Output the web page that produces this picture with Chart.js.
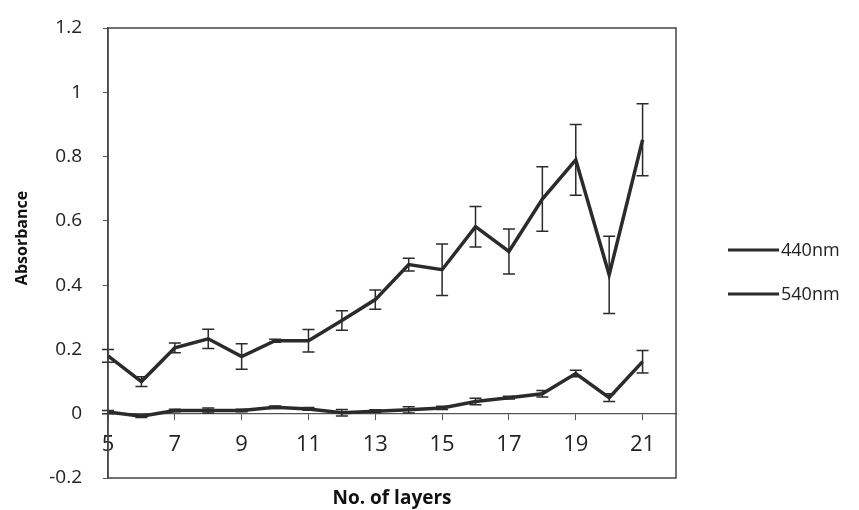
<!DOCTYPE html>
<html>
<head>
<meta charset="utf-8">
<script src="https://cdn.jsdelivr.net/npm/chart.js@4.4.0/dist/chart.umd.min.js"></script>
<style>
  html, body { margin: 0; padding: 0; background: #fff; }
  #wrap { width: 859px; height: 510px; }
</style>
</head>
<body>
<div id="wrap"><canvas id="absChart" width="859" height="510"></canvas></div>
<script>
  // data
  var layers = [5, 6, 7, 8, 9, 10, 11, 12, 13, 14, 15, 16, 17, 18, 19, 20, 21];
  var abs440 = [0.18, 0.10, 0.205, 0.233, 0.178, 0.227, 0.227, 0.29, 0.355, 0.464, 0.448, 0.582, 0.505, 0.668, 0.79, 0.432, 0.852];
  var err440 = [0.02, 0.015, 0.015, 0.03, 0.04, 0.005, 0.035, 0.03, 0.03, 0.02, 0.08, 0.063, 0.07, 0.1, 0.11, 0.12, 0.112];
  var abs540 = [0.005, -0.008, 0.01, 0.01, 0.01, 0.02, 0.015, 0.003, 0.008, 0.012, 0.018, 0.038, 0.05, 0.062, 0.125, 0.05, 0.162];
  var err540 = [0.005, 0.004, 0.004, 0.008, 0.004, 0.004, 0.004, 0.01, 0.004, 0.01, 0.005, 0.01, 0.004, 0.01, 0.01, 0.012, 0.035];
  var xTicks = [5, 7, 9, 11, 13, 15, 17, 19, 21];
  var yTicks = [-0.2, 0, 0.2, 0.4, 0.6, 0.8, 1, 1.2];
  var xTitle = "No. of layers";
  var yTitle = "Absorbance";

  var lineColor = "#2b2b2b";
  var fontFamily = "'Open Sans', 'Noto Sans', sans-serif";

  function points(vals) {
    return vals.map((v, i) => ({ x: layers[i], y: v }));
  }

  // error bars, frame, axis titles and legend, drawn with the chart's scales
  var extrasPlugin = {
    id: "extras",
    afterDatasetsDraw: function(chart) {
      var ctx = chart.ctx;
      var xs = chart.scales.x, ys = chart.scales.y;
      var errs = [err440, err540];
      ctx.save();
      ctx.strokeStyle = lineColor;
      ctx.lineWidth = 1.5;
      chart.data.datasets.forEach(function(ds, di) {
        ds.data.forEach(function(p, j) {
          var px = xs.getPixelForValue(p.x);
          var top = ys.getPixelForValue(p.y + errs[di][j]);
          var bot = ys.getPixelForValue(p.y - errs[di][j]);
          ctx.beginPath();
          ctx.moveTo(px, top); ctx.lineTo(px, bot);
          ctx.moveTo(px - 6, top); ctx.lineTo(px + 6, top);
          ctx.moveTo(px - 6, bot); ctx.lineTo(px + 6, bot);
          ctx.stroke();
        });
      });
      // plot frame
      var a = chart.chartArea;
      ctx.strokeStyle = "#444";
      ctx.lineWidth = 1.5;
      ctx.strokeRect(a.left, a.top, a.right - a.left, a.bottom - a.top);

      // axis titles
      ctx.fillStyle = "#111";
      ctx.textAlign = "center";
      ctx.textBaseline = "middle";
      ctx.font = "bold 19px " + fontFamily;
      ctx.fillText(xTitle, (a.left + a.right) / 2, 499);
      ctx.save();
      ctx.translate(22, 238);
      ctx.rotate(-Math.PI / 2);
      ctx.font = "bold 16px " + fontFamily;
      ctx.fillText(yTitle, 0, 0);
      ctx.restore();

      // legend
      ctx.font = "18px " + fontFamily;
      ctx.fillStyle = "#222";
      ctx.textAlign = "left";
      var ly = [250, 294];
      chart.data.datasets.forEach(function(ds, di) {
        ctx.strokeStyle = lineColor;
        ctx.lineWidth = 3;
        ctx.beginPath();
        ctx.moveTo(728, ly[di]); ctx.lineTo(779, ly[di]);
        ctx.stroke();
        ctx.fillText(ds.label, 781, ly[di] + 1);
      });
      ctx.restore();
    }
  };

  var ctx = document.getElementById("absChart").getContext("2d");
  new Chart(ctx, {
    type: "line",
    data: {
      datasets: [
        {
          label: "440nm",
          data: points(abs440),
          borderColor: lineColor,
          borderWidth: 3.5,
          pointRadius: 0,
          tension: 0
        },
        {
          label: "540nm",
          data: points(abs540),
          borderColor: lineColor,
          borderWidth: 3.5,
          pointRadius: 0,
          tension: 0
        }
      ]
    },
    options: {
      responsive: false,
      animation: false,
      layout: { padding: { top: 28, right: 183, left: 0, bottom: 32 } },
      plugins: {
        legend: { display: false },
        tooltip: { enabled: false }
      },
      scales: {
        x: {
          type: "linear",
          position: { y: 0 },
          min: 5,
          max: 22,
          afterBuildTicks: function(scale) {
            scale.ticks = xTicks.map(v => ({ value: v }));
          },
          afterFit: function(scale) { scale.paddingLeft = 0; scale.paddingRight = 0; },
          grid: { drawOnChartArea: false, drawTicks: true, tickLength: 6, color: "#555" },
          border: { color: "#555", width: 1.2 },
          ticks: {
            color: "#222",
            padding: 12,
            font: { family: fontFamily, size: 22 },
            autoSkip: false,
            maxRotation: 0
          }
        },
        y: {
          min: -0.2,
          max: 1.2,
          afterBuildTicks: function(scale) {
            scale.ticks = yTicks.map(v => ({ value: v }));
          },
          afterFit: function(scale) {
            scale.width = 108;
            scale.paddingTop = 0;
            scale.paddingBottom = 0;
          },
          grid: { drawOnChartArea: false, drawTicks: true, tickLength: 5, color: "#555" },
          border: { color: "#555", width: 1.5 },
          ticks: {
            color: "#222",
            padding: 21,
            font: { family: fontFamily, size: 19 },
            callback: function(v) { return String(parseFloat(v.toFixed(1))); }
          }
        }
      }
    },
    plugins: [extrasPlugin]
  });
</script>
</body>
</html>
